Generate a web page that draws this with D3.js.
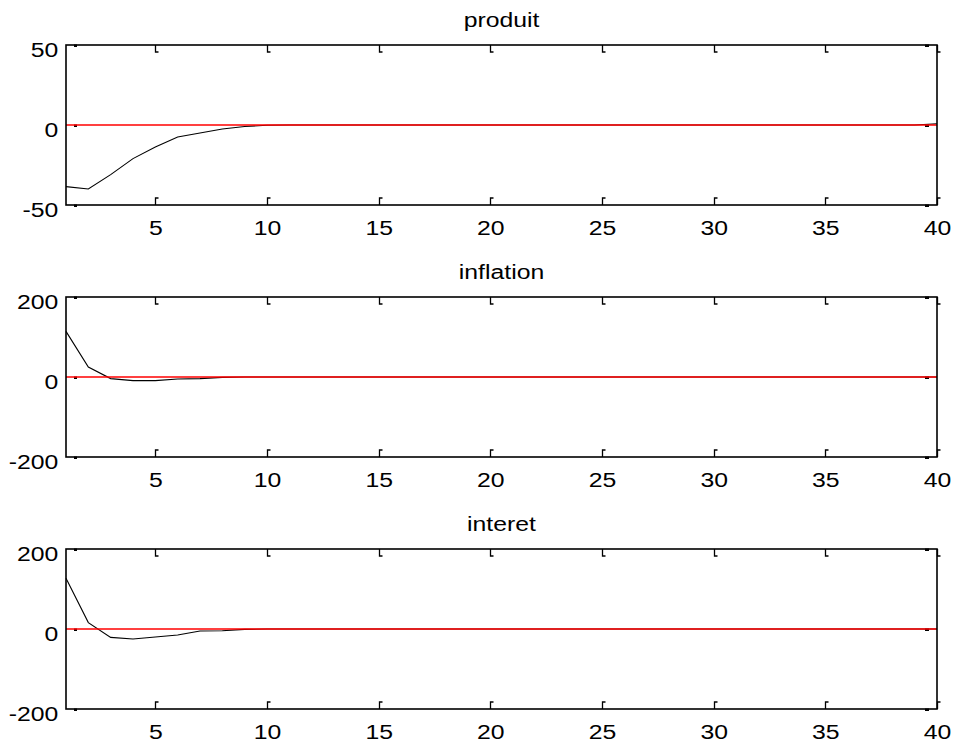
<!DOCTYPE html>
<html>
<head>
<meta charset="utf-8">
<script src="https://cdn.jsdelivr.net/npm/d3@7"></script>
<style>
  body { margin: 0; background: #fff; }
  svg { display: block; }
</style>
</head>
<body>
<div id="chart"></div>
<script>
// horizon (periods) and panel data
const periods = d3.range(1, 41);
const titles = ['produit', 'inflation', 'interet'];
const xTicks = [5, 10, 15, 20, 25, 30, 35, 40];
const produitTicks = [-50, 0, 50];
const inflationTicks = [-200, 0, 200];
const interetTicks = [-200, 0, 200];
const produit = [-38.5, -40, -31, -21, -13.7, -7.5, -5, -2.5, -0.9, -0.2,
  0, 0, 0, 0, 0, 0, 0, 0, 0, 0,
  0, 0, 0, 0, 0, 0, 0, 0, 0, 0,
  0, 0, 0, 0, 0, 0, 0, 0, 0, 0.8];
const inflation = [114, 25, -4, -9, -9, -5, -4, -1, 0, 0,
  0, 0, 0, 0, 0, 0, 0, 0, 0, 0,
  0, 0, 0, 0, 0, 0, 0, 0, 0, 0,
  0, 0, 0, 0, 0, 0, 0, 0, 0, 0];
const interet = [127, 16, -21, -25, -20, -15, -5, -4.5, -1, 0,
  0, 0, 0, 0, 0, 0, 0, 0, 0, 0,
  0, 0, 0, 0, 0, 0, 0, 0, 0, 0,
  0, 0, 0, 0, 0, 0, 0, 0, 0, 0];

const width = 955, height = 749;
const left = 66, right = 937;
const tops = [45, 297, 549];
const panelHeight = 160;
const stretch = 1.18;  // the original picture is a bit wider than tall
const font = 'Arial, "Liberation Sans", sans-serif';

const panels = [
  { title: titles[0], values: produit, ticks: produitTicks },
  { title: titles[1], values: inflation, ticks: inflationTicks },
  { title: titles[2], values: interet, ticks: interetTicks }
];

const svg = d3.select('#chart').append('svg')
  .attr('width', width)
  .attr('height', height);

const x = d3.scaleLinear()
  .domain([1, 40])
  .range([left, right]);

panels.forEach((p, i) => {
  const top = tops[i];
  const bottom = top + panelHeight;
  const y = d3.scaleLinear()
    .domain(d3.extent(p.ticks))
    .range([bottom, top]);
  const g = svg.append('g');

  // title
  g.append('text')
    .attr('transform', `translate(${(left + right) / 2}, ${top - 18}) scale(${stretch}, 1)`)
    .attr('text-anchor', 'middle')
    .attr('font-family', font)
    .attr('font-size', '21px')
    .text(p.title);

  // x axis labels
  const xAxis = d3.axisBottom(x)
    .tickValues(xTicks)
    .tickSize(0)
    .tickPadding(15)
    .tickFormat(d => d);
  const gx = g.append('g')
    .attr('transform', `translate(0, ${bottom})`)
    .call(xAxis);
  gx.select('.domain').remove();
  gx.selectAll('text')
    .attr('font-family', font)
    .attr('font-size', '21px')
    .attr('fill', '#000')
    .attr('transform', `scale(${stretch}, 1)`);

  // y axis labels
  const yAxis = d3.axisLeft(y)
    .tickValues(p.ticks)
    .tickSize(0)
    .tickPadding(6.5)
    .tickFormat(d => d);
  const gy = g.append('g')
    .attr('transform', `translate(${left}, 0)`)
    .call(yAxis);
  gy.select('.domain').remove();
  gy.selectAll('text')
    .attr('font-family', font)
    .attr('font-size', '21px')
    .attr('fill', '#000')
    .attr('dy', '0.56em')
    .attr('transform', `scale(${stretch}, 1)`);

  // small tick marks inside the box
  const tickPath = d3.path();
  xTicks.forEach(t => {
    const tx = Math.round(x(t)) + 0.5;
    tickPath.moveTo(tx, top);
    tickPath.lineTo(tx, top + 7);
    tickPath.lineTo(tx + 3, top + 7);
    tickPath.moveTo(tx, bottom);
    tickPath.lineTo(tx, bottom - 7);
    tickPath.lineTo(tx + 3, bottom - 7);
  });
  g.append('path')
    .attr('d', tickPath.toString())
    .attr('fill', 'none')
    .attr('stroke', '#000')
    .attr('stroke-width', 1.3);

  g.append('g')
    .selectAll('rect')
    .data(p.ticks)
    .join('rect')
      .attr('x', left + 8)
      .attr('y', d => y(d) - 0.5)
      .attr('width', 3)
      .attr('height', 2.5)
      .attr('fill', '#000');
  g.append('g')
    .selectAll('rect')
    .data(p.ticks)
    .join('rect')
      .attr('x', right - 12)
      .attr('y', d => y(d) - 0.5)
      .attr('width', 4)
      .attr('height', 2.5)
      .attr('fill', '#000');

  // response line
  const line = d3.line()
    .x((d, j) => x(periods[j]))
    .y(d => y(d));
  g.append('path')
    .datum(p.values)
    .attr('d', line)
    .attr('fill', 'none')
    .attr('stroke', '#000')
    .attr('stroke-width', 1.1);

  // zero line, drawn over the response
  g.append('line')
    .attr('x1', left)
    .attr('x2', right)
    .attr('y1', y(0))
    .attr('y2', y(0))
    .attr('stroke', '#ff0000')
    .attr('stroke-width', 1.5);

  // box
  g.append('rect')
    .attr('x', left)
    .attr('y', top)
    .attr('width', right - left)
    .attr('height', panelHeight)
    .attr('fill', 'none')
    .attr('stroke', '#000')
    .attr('stroke-width', 1.6);
});
</script>
</body>
</html>
